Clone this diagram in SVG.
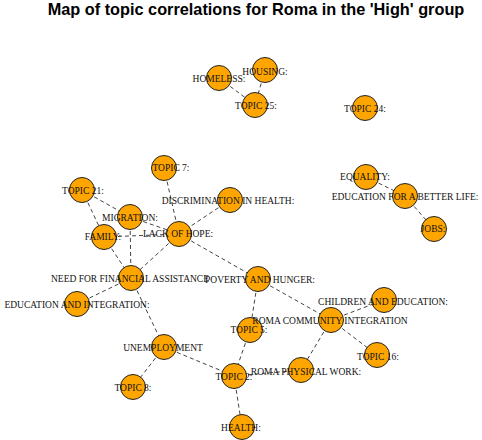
<svg xmlns="http://www.w3.org/2000/svg" width="482" height="440" viewBox="0 0 482 440">
<style>
.title{font-family:"Liberation Sans",Arial,sans-serif;font-weight:bold;font-size:16.3px;fill:#000}
.e{stroke:#444;stroke-width:1;stroke-dasharray:4,3;fill:none}
.n circle{fill:#FFA500;stroke:#222;stroke-width:1}
.n text{font-family:"Liberation Serif","Times New Roman",serif;font-size:9.5px;fill:#111;text-anchor:middle;dominant-baseline:central}
</style>
<rect width="482" height="440" fill="#fff"/>
<text class="title" x="256" y="15" text-anchor="middle">Map of topic correlations for Roma in the 'High' group</text>
<g id="edges">
<line class="e" x1="219" y1="78" x2="255" y2="105"/>
<line class="e" x1="265" y1="70" x2="255" y2="105"/>
<line class="e" x1="366" y1="177" x2="405" y2="196"/>
<line class="e" x1="405" y1="196" x2="434" y2="229"/>
<line class="e" x1="82" y1="190" x2="130" y2="217"/>
<line class="e" x1="130" y1="217" x2="179" y2="234"/>
<line class="e" x1="82" y1="190" x2="104" y2="237"/>
<line class="e" x1="164" y1="168" x2="179" y2="234"/>
<line class="e" x1="230" y1="200" x2="179" y2="234"/>
<line class="e" x1="104" y1="237" x2="179" y2="234"/>
<line class="e" x1="130" y1="217" x2="131" y2="278"/>
<line class="e" x1="104" y1="237" x2="131" y2="278"/>
<line class="e" x1="179" y1="234" x2="131" y2="278"/>
<line class="e" x1="179" y1="234" x2="258" y2="279"/>
<line class="e" x1="131" y1="278" x2="77" y2="304"/>
<line class="e" x1="131" y1="278" x2="164" y2="347"/>
<line class="e" x1="258" y1="279" x2="250" y2="330"/>
<line class="e" x1="258" y1="279" x2="331" y2="320"/>
<line class="e" x1="331" y1="320" x2="384" y2="300"/>
<line class="e" x1="331" y1="320" x2="377" y2="355"/>
<line class="e" x1="331" y1="320" x2="301" y2="370"/>
<line class="e" x1="250" y1="330" x2="234" y2="376"/>
<line class="e" x1="234" y1="376" x2="301" y2="370"/>
<line class="e" x1="164" y1="347" x2="234" y2="376"/>
<line class="e" x1="164" y1="347" x2="133" y2="387"/>
<line class="e" x1="234" y1="376" x2="242" y2="427"/>
</g>
<g id="node-homeless" class="n"><circle cx="219" cy="78" r="12.5"/></g>
<g id="node-housing" class="n"><circle cx="265" cy="70" r="12.5"/></g>
<g id="node-topic25" class="n"><circle cx="255" cy="105" r="12.5"/></g>
<g id="node-topic24" class="n"><circle cx="365" cy="108" r="12.5"/></g>
<g id="node-topic7" class="n"><circle cx="164" cy="168" r="12.5"/></g>
<g id="node-topic21" class="n"><circle cx="82" cy="190" r="12.5"/></g>
<g id="node-discrimination" class="n"><circle cx="230" cy="200" r="12.5"/></g>
<g id="node-migration" class="n"><circle cx="130" cy="217" r="12.5"/></g>
<g id="node-family" class="n"><circle cx="104" cy="237" r="12.5"/></g>
<g id="node-lackofhope" class="n"><circle cx="179" cy="234" r="12.5"/></g>
<g id="node-need" class="n"><circle cx="131" cy="278" r="12.5"/></g>
<g id="node-eduint" class="n"><circle cx="77" cy="304" r="12.5"/></g>
<g id="node-poverty" class="n"><circle cx="258" cy="279" r="12.5"/></g>
<g id="node-topic5" class="n"><circle cx="250" cy="330" r="12.5"/></g>
<g id="node-romacomm" class="n"><circle cx="331" cy="320" r="12.5"/></g>
<g id="node-children" class="n"><circle cx="384" cy="300" r="12.5"/></g>
<g id="node-topic16" class="n"><circle cx="377" cy="355" r="12.5"/></g>
<g id="node-physical" class="n"><circle cx="301" cy="370" r="12.5"/></g>
<g id="node-topic2" class="n"><circle cx="234" cy="376" r="12.5"/></g>
<g id="node-unemployment" class="n"><circle cx="164" cy="347" r="12.5"/></g>
<g id="node-topic8" class="n"><circle cx="133" cy="387" r="12.5"/></g>
<g id="node-health" class="n"><circle cx="242" cy="427" r="12.5"/></g>
<g id="node-equality" class="n"><circle cx="366" cy="177" r="12.5"/></g>
<g id="node-edulife" class="n"><circle cx="405" cy="196" r="12.5"/></g>
<g id="node-jobs" class="n"><circle cx="434" cy="229" r="12.5"/></g>
<g id="labels" class="n">
<text x="219" y="79">HOMELESS:</text>
<text x="265" y="72">HOUSING:</text>
<text x="256" y="106">TOPIC 25:</text>
<text x="365" y="109">TOPIC 24:</text>
<text x="171" y="168">TOPIC 7:</text>
<text x="83" y="191">TOPIC 21:</text>
<text x="228" y="201">DISCRIMINATION IN HEALTH:</text>
<text x="130" y="218">MIGRATION:</text>
<text x="103" y="237">FAMILY:</text>
<text x="178" y="234">LACK OF HOPE:</text>
<text x="130" y="279">NEED FOR FINANCIAL ASSISTANCE</text>
<text x="77" y="305">EDUCATION AND INTEGRATION:</text>
<text x="260" y="280">POVERTY AND HUNGER:</text>
<text x="249" y="330">TOPIC 5:</text>
<text x="330" y="321">ROMA COMMUNITY INTEGRATION</text>
<text x="383" y="302">CHILDREN AND EDUCATION:</text>
<text x="378" y="357">TOPIC 16:</text>
<text x="306" y="372">ROMA PHYSICAL WORK:</text>
<text x="234" y="377">TOPIC 2:</text>
<text x="163" y="348">UNEMPLOYMENT</text>
<text x="133" y="388">TOPIC 8:</text>
<text x="241" y="428">HEALTH:</text>
<text x="365" y="177">EQUALITY:</text>
<text x="405" y="197">EDUCATION FOR A BETTER LIFE:</text>
<text x="433" y="229">JOBS:</text>
</g>
</svg>
